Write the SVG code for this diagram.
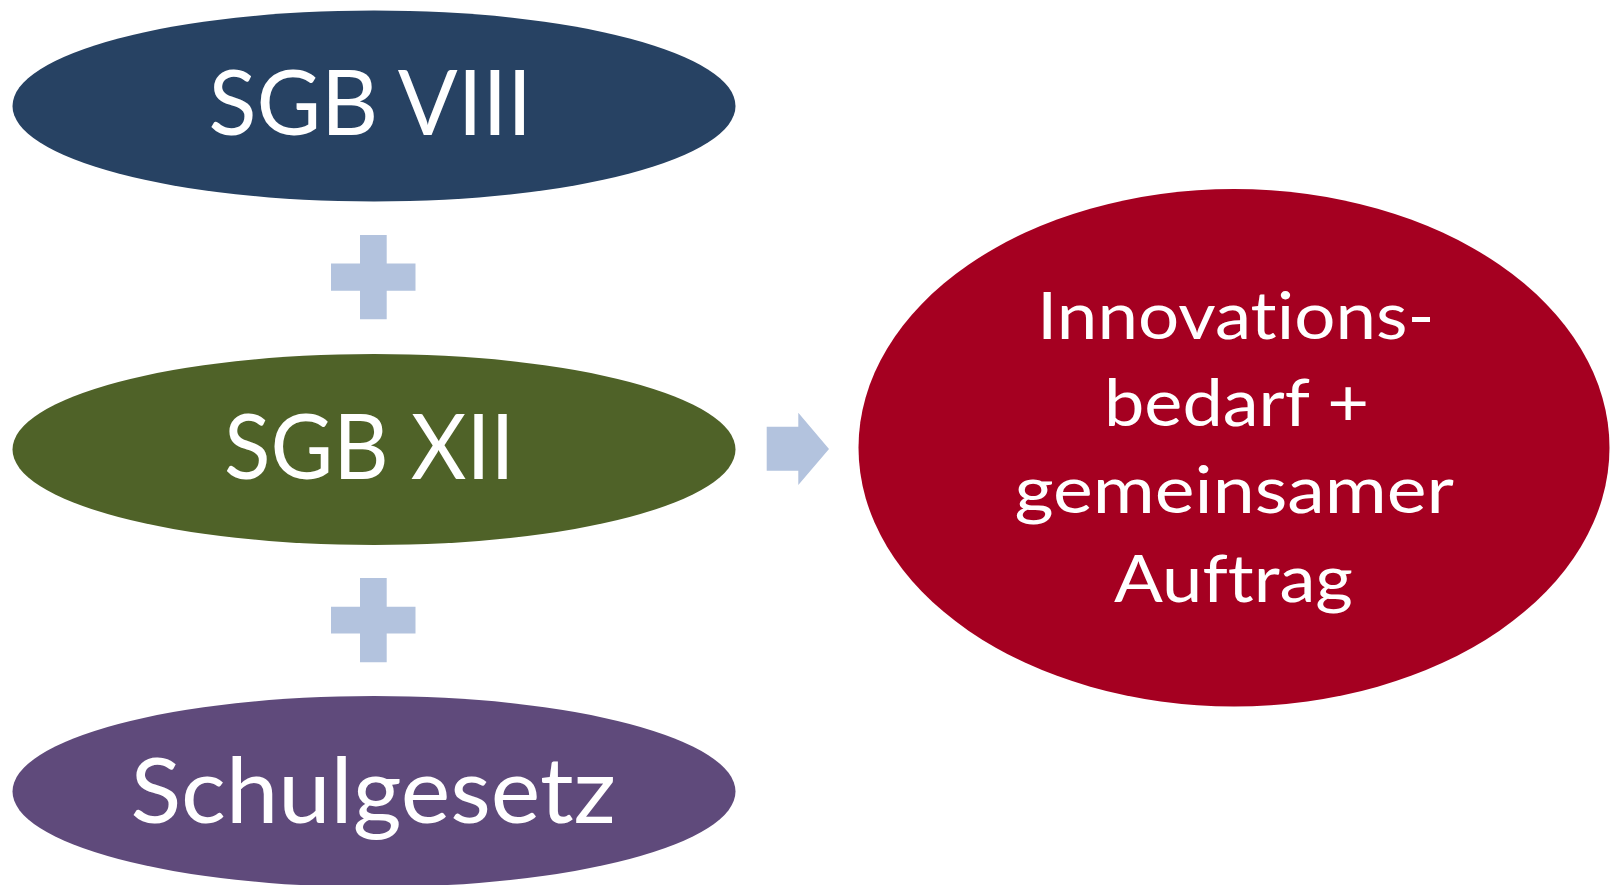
<svg xmlns="http://www.w3.org/2000/svg" width="1610" height="885" viewBox="0 0 1610 885">
<style>
.lbl{font-family:Lato,"Open Sans","Liberation Sans",sans-serif;fill:#ffffff;font-variant-ligatures:none;font-feature-settings:"liga" 0,"clig" 0,"dlig" 0}
.big{font-size:92px}
.mid{font-size:66px}
.sym{fill:#B3C3DE}
</style>
<rect x="0" y="0" width="1610" height="885" fill="#ffffff"/>
<g id="sgb8">
<ellipse cx="374" cy="106" rx="361.5" ry="95.5" fill="#274263"/>
<text class="lbl big" x="208.5" y="134.5" textLength="323.5" lengthAdjust="spacingAndGlyphs">SGB VIII</text>
</g>
<g id="sgb12">
<ellipse cx="374" cy="449.5" rx="361.5" ry="95.5" fill="#4F6228"/>
<text class="lbl big" x="224" y="478.5" textLength="290.5" lengthAdjust="spacingAndGlyphs">SGB XII</text>
</g>
<g id="schulgesetz">
<ellipse cx="374" cy="791.5" rx="361.5" ry="95.5" fill="#5F4A7B"/>
<text class="lbl big" x="130.5" y="822.5" textLength="485.5" lengthAdjust="spacingAndGlyphs">Schulgesetz</text>
</g>
<g id="result">
<ellipse cx="1234" cy="447.7" rx="375.5" ry="258.7" fill="#A50021"/>
<text class="lbl mid" x="1037" y="338.8" textLength="397.5" lengthAdjust="spacingAndGlyphs">Innovations-</text>
<text class="lbl mid" x="1104" y="426.1" textLength="265" lengthAdjust="spacingAndGlyphs">bedarf +</text>
<text class="lbl mid" x="1014.5" y="513.4" textLength="439.5" lengthAdjust="spacingAndGlyphs">gemeinsamer</text>
<text class="lbl mid" x="1114" y="601.7" textLength="239" lengthAdjust="spacingAndGlyphs">Auftrag</text>
</g>
<g id="connectors">
<path class="sym" d="M360,235 H386.7 V263.5 H415.5 V290.7 H386.7 V319.3 H360 V290.7 H331 V263.5 H360 Z"/>
<path class="sym" d="M360,578 H386.7 V606.7 H415.5 V633.5 H386.7 V662.3 H360 V633.5 H331 V606.7 H360 Z"/>
<path class="sym" d="M766.7,426.7 H798.3 V412.7 L829,449 L798.3,485 V470.7 H766.7 Z"/>
</g>
</svg>
